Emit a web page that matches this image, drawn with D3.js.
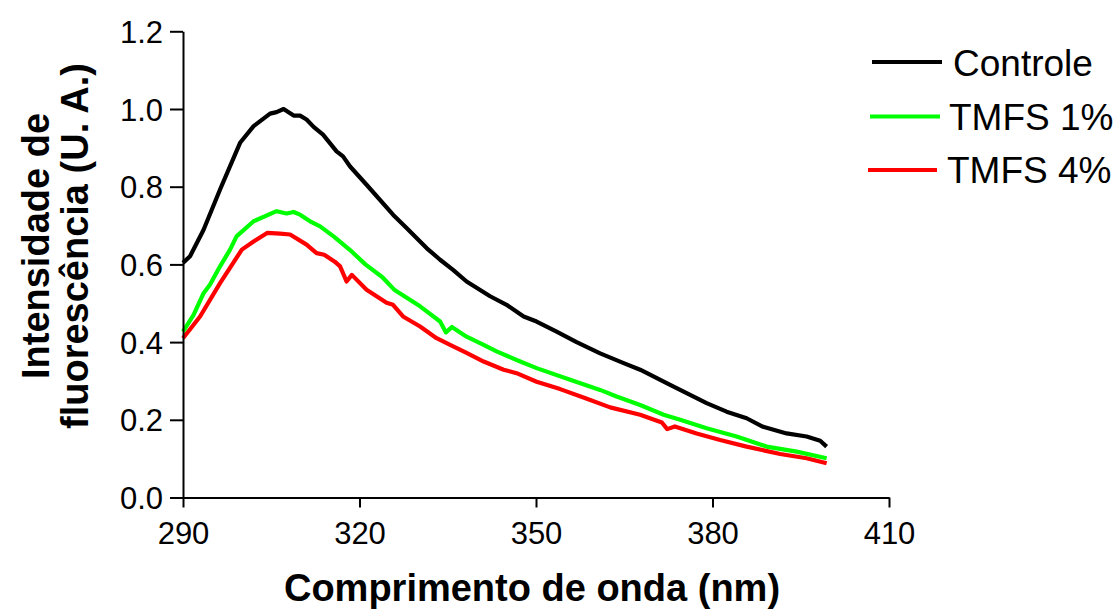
<!DOCTYPE html>
<html>
<head>
<meta charset="utf-8">
<script src="https://cdn.jsdelivr.net/npm/d3@7"></script>
<style>
  html, body { margin: 0; padding: 0; background: #fff; }
  svg { display: block; font-family: "Liberation Sans", Arial, sans-serif; }
</style>
</head>
<body>
<svg id="chart" width="1119" height="615"></svg>
<script>
// ---- Data ----
const seriesNames = ["Controle", "TMFS 1%", "TMFS 4%"];
const xTicks = [290, 320, 350, 380, 410];
const yTicks = [0.0, 0.2, 0.4, 0.6, 0.8, 1.0, 1.2];

const controleWl = [290.0, 291.2, 293.5, 296.3, 299.7, 302.0, 304.8, 305.9, 307.1, 308.8, 309.9, 311.0, 312.2, 313.8, 316.1, 317.2, 318.4, 321.2, 325.7, 328.0, 331.4, 333.7, 335.9, 338.2, 342.2, 345.0, 347.9, 350.1, 353.5, 356.9, 360.9, 364.9, 367.7, 372.8, 376.2, 379.0, 382.4, 385.8, 388.6, 392.6, 396.0, 398.3, 399.4];
const controleVal = [0.604, 0.621, 0.689, 0.793, 0.913, 0.956, 0.988, 0.992, 1.000, 0.983, 0.983, 0.973, 0.954, 0.934, 0.891, 0.878, 0.852, 0.805, 0.728, 0.694, 0.642, 0.612, 0.586, 0.556, 0.518, 0.496, 0.466, 0.453, 0.427, 0.400, 0.371, 0.346, 0.329, 0.290, 0.264, 0.243, 0.221, 0.204, 0.182, 0.165, 0.157, 0.146, 0.131];

const tmfs1Wl = [290.0, 291.8, 293.5, 294.6, 296.3, 298.0, 299.1, 302.0, 305.9, 307.6, 308.8, 309.9, 311.6, 313.3, 315.6, 318.4, 321.0, 323.9, 325.9, 330.3, 333.7, 334.7, 335.7, 338.2, 341.1, 343.3, 346.7, 350.1, 355.8, 360.9, 363.7, 367.7, 371.7, 374.5, 379.0, 384.1, 389.2, 394.3, 399.4];
const tmfs1Val = [0.427, 0.470, 0.526, 0.548, 0.595, 0.638, 0.672, 0.711, 0.737, 0.731, 0.735, 0.728, 0.711, 0.698, 0.672, 0.637, 0.600, 0.567, 0.535, 0.492, 0.453, 0.425, 0.439, 0.414, 0.393, 0.376, 0.354, 0.333, 0.303, 0.277, 0.260, 0.238, 0.213, 0.200, 0.178, 0.157, 0.131, 0.118, 0.101];

const tmfs4Wl = [290.0, 292.9, 296.3, 300.0, 302.0, 304.3, 306.5, 308.2, 311.0, 312.7, 314.0, 315.8, 316.7, 317.8, 318.7, 321.2, 324.6, 325.7, 327.4, 330.3, 333.1, 335.4, 338.2, 341.1, 344.5, 346.7, 350.1, 354.1, 358.3, 362.6, 367.7, 371.4, 372.3, 373.6, 377.3, 381.3, 385.8, 391.5, 396.0, 399.4];
const tmfs4Val = [0.410, 0.466, 0.552, 0.638, 0.659, 0.681, 0.679, 0.677, 0.651, 0.629, 0.625, 0.607, 0.595, 0.556, 0.573, 0.535, 0.501, 0.496, 0.466, 0.440, 0.410, 0.393, 0.372, 0.350, 0.329, 0.320, 0.298, 0.279, 0.256, 0.232, 0.213, 0.193, 0.176, 0.183, 0.165, 0.148, 0.131, 0.112, 0.101, 0.088];

const seriesColors = ["#000000", "#00ff00", "#ff0000"];

// ---- Build ----
const series = [
  { name: seriesNames[0], color: seriesColors[0], pts: controleWl.map((w, i) => [w, controleVal[i]]) },
  { name: seriesNames[1], color: seriesColors[1], pts: tmfs1Wl.map((w, i) => [w, tmfs1Val[i]]) },
  { name: seriesNames[2], color: seriesColors[2], pts: tmfs4Wl.map((w, i) => [w, tmfs4Val[i]]) }
];

const svg = d3.select("#chart");
const x = d3.scaleLinear().domain([290, 410]).range([183, 889]);
const y = d3.scaleLinear().domain([0, 1.2]).range([497.5, 31.3]);

const line = d3.line().x(d => x(d[0])).y(d => y(d[1]));
svg.append("g").selectAll("path")
  .data(series.slice().reverse())
  .join("path")
  .attr("d", d => line(d.pts))
  .attr("fill", "none")
  .attr("stroke", d => d.color)
  .attr("stroke-width", 4.2)
  .attr("stroke-linejoin", "round");

// Axes
const xAxis = svg.append("g")
  .attr("transform", `translate(0,${y(0)})`)
  .call(d3.axisBottom(x).tickValues(xTicks).tickFormat(d3.format("d")).tickSize(10).tickSizeOuter(0).tickPadding(14));
const yAxis = svg.append("g")
  .attr("transform", `translate(${x(290)},0)`)
  .call(d3.axisLeft(y).tickValues(yTicks).tickFormat(d3.format(".1f")).tickSize(13).tickSizeOuter(0).tickPadding(7));

[xAxis, yAxis].forEach(g => {
  g.select(".domain").attr("stroke", "#000").attr("stroke-width", 2);
  g.selectAll(".tick line").attr("stroke", "#000").attr("stroke-width", 2);
  g.selectAll(".tick text").attr("fill", "#000").style("font-size", "31px")
    .style("font-family", '"Liberation Sans", Arial, sans-serif');
});
yAxis.selectAll(".tick text").attr("dy", "0.36em");

// Axis titles
svg.append("text")
  .attr("x", 532).attr("y", 601)
  .attr("text-anchor", "middle")
  .style("font-size", "38px").style("font-weight", "bold")
  .text("Comprimento de onda (nm)");

const yTitle = svg.append("g").attr("transform", "translate(0,246) rotate(-90)");
yTitle.append("text").attr("x", 0).attr("y", 49)
  .attr("text-anchor", "middle")
  .style("font-size", "38px").style("font-weight", "bold")
  .text("Intensidade de");
yTitle.append("text").attr("x", 0).attr("y", 88)
  .attr("text-anchor", "middle")
  .style("font-size", "38px").style("font-weight", "bold")
  .text("fluorescência (U. A.)");

// Legend
const legendRows = [
  { x1: 872, x2: 942, ly: 62, tx: 953, ty: 76 },
  { x1: 870, x2: 940, ly: 116.5, tx: 949, ty: 129.5 },
  { x1: 868, x2: 937, ly: 170, tx: 947, ty: 183 }
];
const lg = svg.append("g").selectAll("g").data(series).join("g");
lg.append("line")
  .attr("x1", (d, i) => legendRows[i].x1).attr("x2", (d, i) => legendRows[i].x2)
  .attr("y1", (d, i) => legendRows[i].ly).attr("y2", (d, i) => legendRows[i].ly)
  .attr("stroke", d => d.color).attr("stroke-width", 4);
lg.append("text")
  .attr("x", (d, i) => legendRows[i].tx).attr("y", (d, i) => legendRows[i].ty)
  .style("font-size", "37px")
  .text(d => d.name);
</script>
</body>
</html>
